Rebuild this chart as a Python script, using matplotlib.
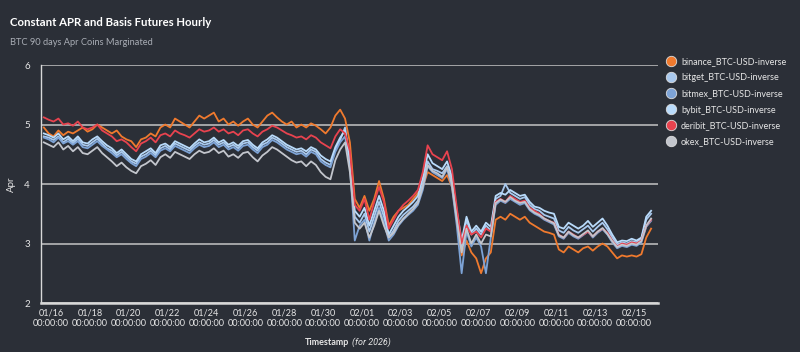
import numpy as np
import pandas as pd
import matplotlib
matplotlib.use("Agg")
import matplotlib.pyplot as plt
import matplotlib.dates as mdates
from matplotlib.lines import Line2D

# ---------------- data (6-hourly samples, 2026-01-15 15:00 .. 2026-02-15 21:00) -------------
start = "2026-01-15 15:00"
freq = "6h"

binance = [4.95, 4.85,
    4.80, 4.90, 4.82, 4.88, 4.85, 4.90, 4.95, 4.88, 4.92, 5.00, 4.95, 4.90,
    4.85, 4.90, 4.80, 4.75, 4.72, 4.62, 4.75, 4.78, 4.85, 4.80, 4.95, 5.00,
    4.95, 5.10, 5.05, 5.00, 4.95, 5.05, 5.15, 5.10, 5.15, 5.20, 5.05, 5.10,
    5.00, 5.05, 4.98, 5.05, 5.10, 5.00, 4.95, 5.05, 5.15, 5.20, 5.12, 5.05,
    5.00, 5.05, 4.95, 5.00, 4.95, 5.02, 4.98, 4.92, 4.85, 4.95, 5.15, 5.25,
    5.10, 4.70, 3.75, 3.60, 3.80, 3.55, 3.75, 4.05, 3.75, 3.30, 3.45, 3.55,
    3.60, 3.65, 3.75, 3.85, 3.95, 4.20, 4.15, 4.10, 4.05, 4.15, 3.95, 3.40,
    2.80, 3.05, 2.85, 2.75, 2.50, 2.75, 2.85, 3.40, 3.45, 3.40, 3.50, 3.45,
    3.40, 3.45, 3.35, 3.30, 3.25, 3.20, 3.18, 3.15, 2.90, 2.85, 2.95, 2.90,
    2.85, 2.92, 2.95, 2.88, 2.95, 3.00, 2.95, 2.85, 2.75, 2.80, 2.78, 2.80,
    2.78, 2.82, 3.10, 3.25]

bitget = [4.80, 4.78,
    4.74, 4.80, 4.70, 4.76, 4.68, 4.76, 4.66, 4.64, 4.70, 4.76, 4.68, 4.60,
    4.56, 4.48, 4.54, 4.46, 4.38, 4.34, 4.46, 4.50, 4.56, 4.48, 4.60, 4.64,
    4.58, 4.68, 4.64, 4.60, 4.56, 4.64, 4.70, 4.66, 4.68, 4.74, 4.66, 4.70,
    4.62, 4.66, 4.60, 4.68, 4.70, 4.62, 4.56, 4.66, 4.70, 4.78, 4.74, 4.68,
    4.62, 4.58, 4.54, 4.56, 4.50, 4.58, 4.54, 4.42, 4.36, 4.32, 4.58, 4.74,
    4.95, 4.35, 3.45, 3.35, 3.50, 3.20, 3.45, 3.70, 3.45, 3.10, 3.22, 3.38,
    3.48, 3.55, 3.62, 3.72, 4.00, 4.38, 4.25, 4.22, 4.18, 4.30, 4.05, 3.45,
    2.95, 3.40, 3.15, 3.25, 3.15, 3.30, 3.22, 3.75, 3.80, 4.00, 3.85, 3.80,
    3.75, 3.78, 3.65, 3.58, 3.55, 3.48, 3.45, 3.42, 3.22, 3.18, 3.28, 3.22,
    3.18, 3.24, 3.30, 3.20, 3.28, 3.35, 3.24, 3.10, 2.98, 3.02, 3.00, 3.04,
    3.02, 3.08, 3.40, 3.50]

bitmex = [4.78, 4.75,
    4.70, 4.78, 4.68, 4.72, 4.66, 4.72, 4.62, 4.60, 4.66, 4.72, 4.64, 4.58,
    4.52, 4.45, 4.50, 4.42, 4.35, 4.30, 4.42, 4.46, 4.52, 4.45, 4.56, 4.60,
    4.55, 4.64, 4.60, 4.56, 4.52, 4.60, 4.66, 4.62, 4.64, 4.70, 4.62, 4.66,
    4.58, 4.62, 4.56, 4.64, 4.66, 4.58, 4.52, 4.62, 4.66, 4.74, 4.70, 4.64,
    4.58, 4.54, 4.50, 4.52, 4.46, 4.54, 4.50, 4.38, 4.32, 4.28, 4.54, 4.70,
    4.80, 4.30, 3.05, 3.30, 3.40, 3.05, 3.35, 3.60, 3.35, 3.05, 3.15, 3.30,
    3.40, 3.48, 3.55, 3.65, 3.90, 4.30, 4.20, 4.15, 4.10, 4.25, 3.95, 3.30,
    2.50, 3.20, 2.95, 3.10, 2.95, 2.50, 3.10, 3.65, 3.72, 3.68, 3.75, 3.70,
    3.65, 3.68, 3.56, 3.50, 3.46, 3.40, 3.36, 3.32, 3.12, 3.08, 3.18, 3.12,
    3.08, 3.14, 3.20, 3.10, 3.18, 3.24, 3.15, 3.02, 2.92, 2.96, 2.94, 2.98,
    2.96, 3.02, 3.28, 3.38]

bybit = [4.85, 4.82,
    4.78, 4.85, 4.75, 4.80, 4.72, 4.80, 4.70, 4.68, 4.75, 4.80, 4.72, 4.65,
    4.60, 4.52, 4.58, 4.50, 4.42, 4.38, 4.50, 4.55, 4.60, 4.52, 4.65, 4.68,
    4.62, 4.72, 4.68, 4.64, 4.60, 4.68, 4.75, 4.70, 4.72, 4.78, 4.70, 4.74,
    4.66, 4.70, 4.64, 4.72, 4.74, 4.66, 4.60, 4.70, 4.75, 4.82, 4.78, 4.72,
    4.66, 4.62, 4.58, 4.60, 4.55, 4.62, 4.58, 4.48, 4.42, 4.38, 4.62, 4.78,
    4.90, 4.40, 3.55, 3.45, 3.60, 3.30, 3.55, 3.80, 3.55, 3.15, 3.30, 3.45,
    3.55, 3.62, 3.70, 3.80, 4.10, 4.50, 4.35, 4.30, 4.25, 4.38, 4.12, 3.55,
    3.05, 3.45, 3.20, 3.30, 3.20, 3.35, 3.28, 3.80, 3.85, 3.82, 3.90, 3.85,
    3.80, 3.82, 3.70, 3.62, 3.60, 3.55, 3.52, 3.50, 3.28, 3.25, 3.35, 3.30,
    3.25, 3.30, 3.38, 3.28, 3.35, 3.42, 3.30, 3.15, 3.02, 3.05, 3.04, 3.08,
    3.05, 3.10, 3.45, 3.55]

deribit = [5.12, 5.08,
    5.05, 5.10, 5.00, 5.02, 4.98, 5.05, 4.95, 4.92, 4.95, 5.00, 4.90, 4.85,
    4.80, 4.72, 4.75, 4.70, 4.62, 4.55, 4.68, 4.72, 4.78, 4.70, 4.82, 4.85,
    4.80, 4.90, 4.85, 4.82, 4.78, 4.85, 4.92, 4.88, 4.90, 4.95, 4.88, 4.92,
    4.85, 4.88, 4.82, 4.90, 4.92, 4.85, 4.80, 4.88, 4.92, 4.98, 4.95, 4.90,
    4.85, 4.82, 4.78, 4.80, 4.75, 4.82, 4.78, 4.70, 4.65, 4.60, 4.80, 4.92,
    4.85, 4.55, 3.65, 3.55, 3.75, 3.40, 3.70, 3.95, 3.70, 3.25, 3.40, 3.55,
    3.65, 3.72, 3.80, 3.90, 4.20, 4.65, 4.50, 4.45, 4.40, 4.55, 4.25, 3.60,
    3.00, 3.30, 3.15, 3.20, 3.10, 3.25, 3.20, 3.70, 3.75, 3.70, 3.80, 3.75,
    3.70, 3.72, 3.60, 3.55, 3.50, 3.42, 3.38, 3.35, 3.15, 3.10, 3.20, 3.15,
    3.10, 3.15, 3.20, 3.12, 3.20, 3.25, 3.18, 3.05, 2.95, 3.00, 2.98, 3.02,
    3.00, 3.05, 3.30, 3.40]

okex = [4.70, 4.66,
    4.62, 4.70, 4.58, 4.64, 4.55, 4.62, 4.52, 4.50, 4.56, 4.62, 4.52, 4.45,
    4.38, 4.30, 4.36, 4.28, 4.22, 4.18, 4.30, 4.34, 4.40, 4.32, 4.45, 4.50,
    4.44, 4.54, 4.50, 4.46, 4.42, 4.50, 4.56, 4.52, 4.54, 4.60, 4.52, 4.56,
    4.46, 4.50, 4.44, 4.52, 4.54, 4.45, 4.38, 4.48, 4.54, 4.62, 4.58, 4.52,
    4.46, 4.40, 4.36, 4.38, 4.30, 4.38, 4.32, 4.20, 4.12, 4.08, 4.40, 4.58,
    4.70, 4.20, 3.35, 3.25, 3.35, 3.10, 3.30, 3.55, 3.30, 3.10, 3.18, 3.32,
    3.42, 3.50, 3.58, 3.68, 3.95, 4.32, 4.22, 4.18, 4.12, 4.28, 4.00, 3.40,
    2.85, 3.25, 3.00, 3.15, 3.00, 3.15, 3.12, 3.68, 3.74, 3.70, 3.78, 3.72,
    3.68, 3.70, 3.58, 3.52, 3.48, 3.42, 3.38, 3.34, 3.14, 3.10, 3.20, 3.14,
    3.10, 3.16, 3.22, 3.12, 3.20, 3.26, 3.16, 3.04, 2.94, 2.98, 2.96, 3.00,
    2.98, 3.04, 3.30, 3.42]

series_names = ["binance_BTC-USD-inverse", "bitget_BTC-USD-inverse", "bitmex_BTC-USD-inverse",
                "bybit_BTC-USD-inverse", "deribit_BTC-USD-inverse", "okex_BTC-USD-inverse"]
series_values = [binance, bitget, bitmex, bybit, deribit, okex]
colors = ["#f07a2e", "#a9c9ee", "#7da3d6", "#b9dbfb", "#e8434f", "#c3c6cd"]

title = "Constant APR and Basis Futures Hourly"
subtitle = "BTC 90 days Apr Coins Marginated"
y_ticks = [2, 3, 4, 5, 6]
tick_dates = list(pd.date_range("2026-01-16", "2026-01-30", freq="2D")) + \
             list(pd.date_range("2026-02-01", "2026-02-15", freq="2D"))

# ---------------- figure ----------------
BG = "#2b2f37"
FG = "#e6e6e6"
plt.rcParams["font.family"] = ["Lato", "DejaVu Sans"]

fig = plt.figure(figsize=(8.0, 3.52), dpi=100, facecolor=BG)
ax = fig.add_axes([0.05125, 0.1392, 0.77125, 0.6761], facecolor=BG)

times = pd.date_range(start=start, periods=len(deribit), freq=freq)
for name, vals, c in zip(series_names, series_values, colors):
    ax.plot(times, vals, color=c, lw=1.3, label=name, solid_joinstyle="round")

ax.set_ylim(2, 6)
ax.set_yticks(y_ticks)
ax.set_xlim(pd.Timestamp("2026-01-15 11:30"), pd.Timestamp("2026-02-16 05:30"))
ax.set_xticks(tick_dates)
ax.xaxis.set_major_formatter(mdates.DateFormatter("%m/%d\n%H:%M:%S"))

ax.grid(axis="y", color="#c4c4c4", lw=1.1)
ax.set_axisbelow(True)
for s in ["top", "right"]:
    ax.spines[s].set_visible(False)
ax.spines["left"].set_color("#d8d8d8")
ax.spines["bottom"].set_color("#d8d8d8")
ax.spines["left"].set_linewidth(1.0)
ax.spines["bottom"].set_linewidth(1.8)
ax.tick_params(colors=FG, labelsize=6.6, length=0, pad=4)
ax.tick_params(axis="y", pad=8, labelsize=7)

ax.set_ylabel("Apr", color=FG, fontsize=7, labelpad=6)

# x label: "Timestamp" upright + "(for 2026)" italic
xl_y = 0.028
fig.text(0.4365, xl_y, "Timestamp", color=FG, fontsize=6.5, ha="right", va="center",
         fontweight="bold")
fig.text(0.4395, xl_y, "(for 2026)", color=FG, fontsize=6.5, ha="left", va="center",
         style="italic", family=["Roboto", "DejaVu Sans"])

fig.text(0.0125, 0.935, title, color="white", fontsize=8.2, fontweight="bold", va="center")
fig.text(0.0125, 0.878, subtitle, color="#a9adb5", fontsize=6.7, va="center")

handles = [Line2D([], [], marker="o", ls="", markersize=7.5, markerfacecolor=c,
                  markeredgecolor="#dddddd", markeredgewidth=0.6) for c in colors]
leg = fig.legend(handles, series_names, loc="upper left", bbox_to_anchor=(0.822, 0.86),
                 frameon=False, fontsize=6.5, labelcolor=FG, handletextpad=0.5,
                 labelspacing=0.78, handlelength=1.2)

fig.savefig("out.png", dpi=100, facecolor=BG)
